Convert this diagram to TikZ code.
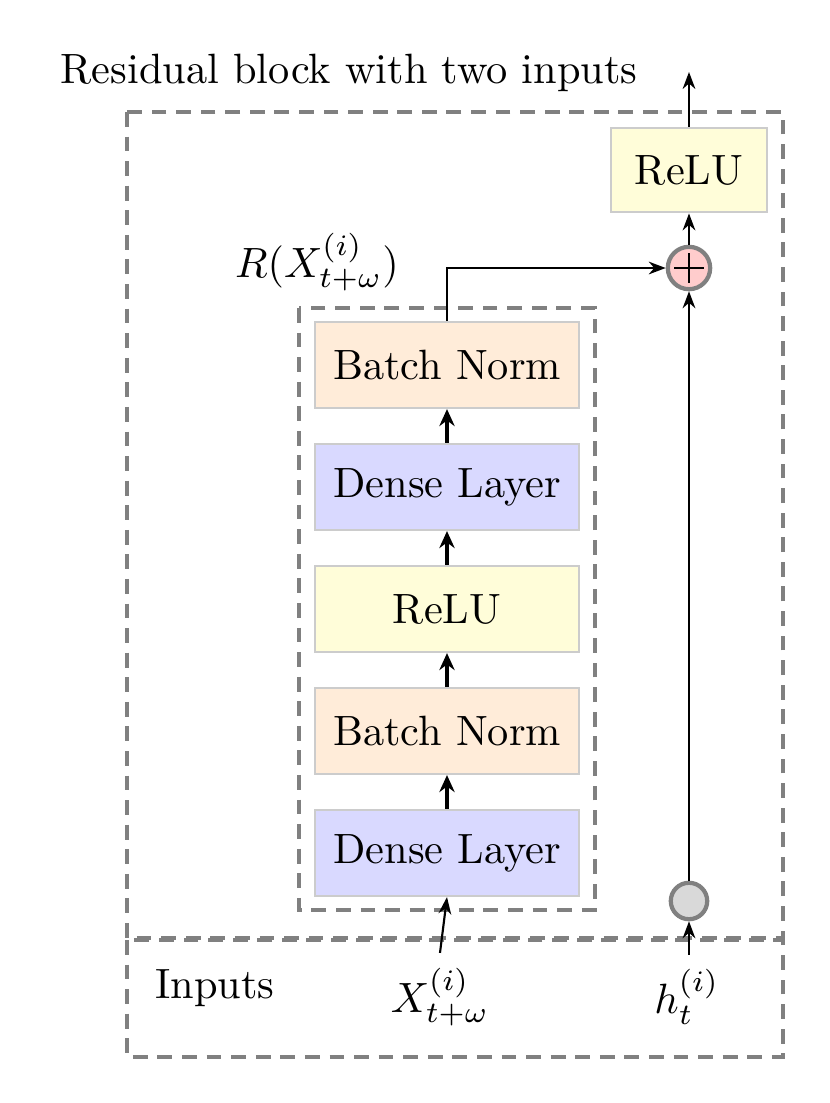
\documentclass[tikz,border=0pt]{standalone}
\usetikzlibrary{arrows.meta,calc}
\begin{document}
\begin{tikzpicture}[x=0.236pt,y=-0.236pt,
 dashbox/.style={draw=gray, line width=0.9pt, dash pattern=on 3.5pt off 2.3pt},
 layer/.style={draw=black!20, line width=0.5pt, minimum width=62.3pt, minimum height=20.3pt, inner sep=0pt},
 bn/.style={layer, fill=orange!15},
 dense/.style={layer, fill=blue!15},
 relu/.style={layer, fill=yellow!15},
 arr/.style={-{Stealth[length=4pt,width=3pt]}, line width=0.5pt},
 thickarr/.style={-{Stealth[length=4pt,width=3.6pt]}, line width=0.9pt},
 plusnode/.style={circle, draw=gray, line width=1pt, fill=red!20, minimum size=10pt, inner sep=0pt},
 inpnode/.style={circle, draw=gray, line width=1pt, fill=gray!30, minimum size=8.6pt, inner sep=0pt},
]
\useasboundingbox (0,0) rectangle (829,1103);
% dashed frames
\draw[dashbox] (127,112) rectangle (783,938);
\draw[dashbox] (127,940) rectangle (783,1057);
\draw[dashbox] (299,308) rectangle (595,910);
% labels
\node (title) at (349,73) {Residual block with two inputs};
\node (rlabel) at (317,262) {$R(X^{(i)}_{t+\omega})$};
\node (inputs) at (215,988) {Inputs};
\node (xin) at (440,997) {$X^{(i)}_{t+\omega}$};
\node (hin) at (687,997) {$h^{(i)}_t$};
% layers
\node[bn] (bn2) at (447,365) {Batch Norm};
\node[dense] (d2) at (447,487) {Dense Layer};
\node[relu] (r1) at (447,609) {ReLU};
\node[bn] (bn1) at (447,731) {Batch Norm};
\node[dense] (d1) at (447,853) {Dense Layer};
% right column
\node[relu, minimum width=37pt, minimum height=20pt] (r2) at (689,170) {ReLU};
\node[plusnode] (plus) at (689,268) {};
\draw[line width=0.6pt] ($(plus.center)+(-15,0)$) -- ($(plus.center)+(15,0)$)
  ($(plus.center)+(0,-15)$) -- ($(plus.center)+(0,15)$);
\node[inpnode] (hc) at (689,901) {};
\coordinate (out) at (689,72);
% connectors
\draw[thickarr] (d1) -- (bn1);
\draw[thickarr] (bn1) -- (r1);
\draw[thickarr] (r1) -- (d2);
\draw[thickarr] (d2) -- (bn2);
\draw[arr] (xin.north) -- (d1.south);
\draw[arr] (hin.north -| hc) -- (hc.south);
\draw[arr] (hc.north) -- (plus.south);
\draw[arr] (bn2.north) |- (plus.west);
\draw[arr] (plus.north) -- (r2.south);
\draw[arr] (r2.north) -- (out);
\end{tikzpicture}
\end{document}
